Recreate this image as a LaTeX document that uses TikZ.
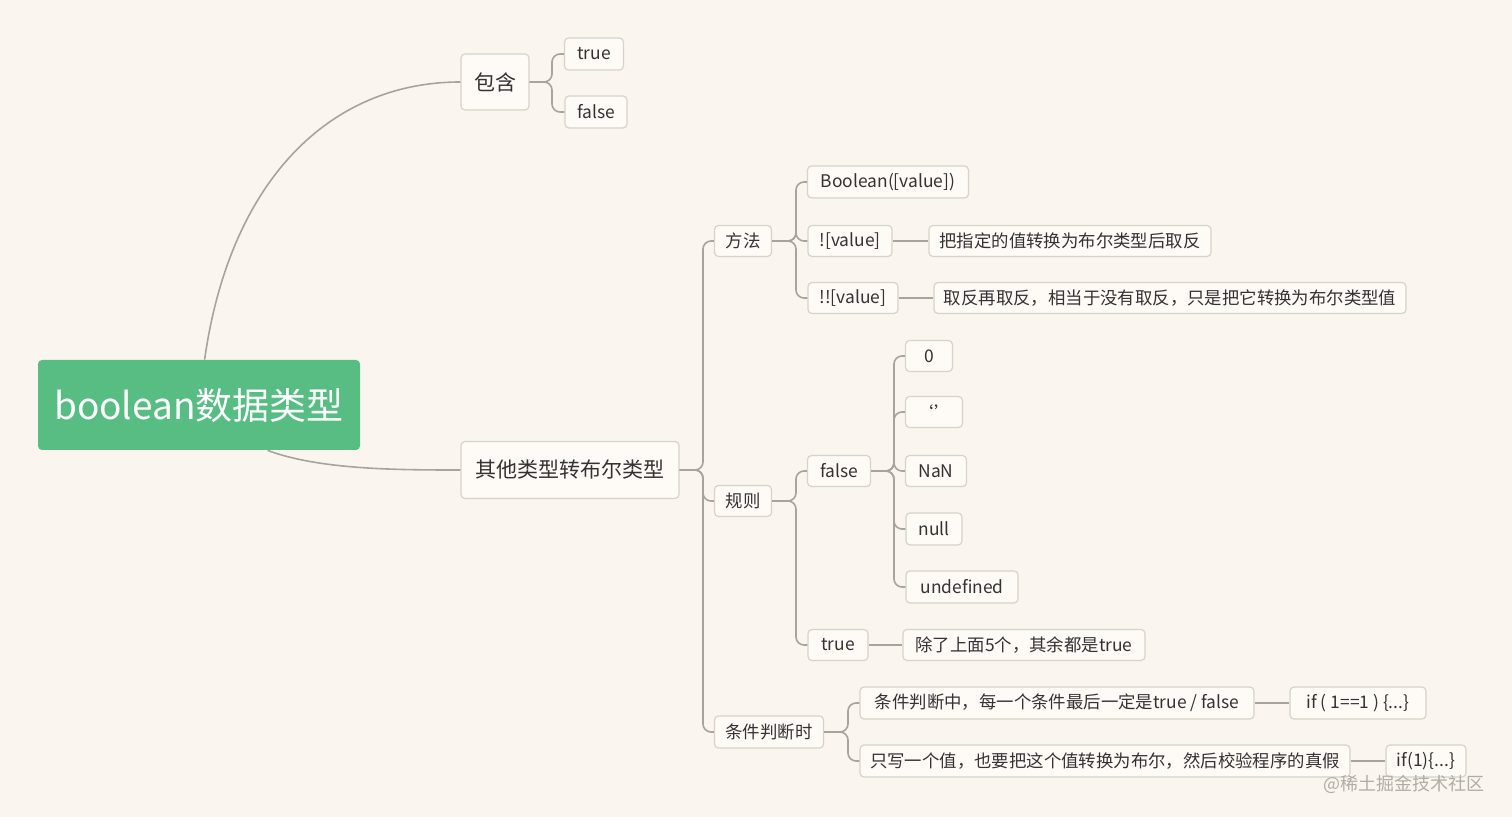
\documentclass[tikz,border=0pt]{standalone}
\usepackage{fontspec}
\setmainfont{Noto Sans CJK SC}
\begin{document}
\begin{tikzpicture}[x=0.5pt,y=-0.5pt,
 bx/.style={draw=bord,fill=boxf,rounded corners=2pt,line width=0.6pt,font=\fontsize{8.7}{10}\selectfont,text=txt,inner sep=0pt,anchor=center},
 conn/.style={draw=lin,line width=0.8pt,rounded corners=4pt}]
\definecolor{bg}{HTML}{FBF5EF}
\definecolor{bord}{HTML}{D8D2CB}
\definecolor{boxf}{HTML}{FEFAF6}
\definecolor{lin}{HTML}{A9A39D}
\definecolor{txt}{HTML}{333333}
\definecolor{grn}{HTML}{57BD82}
\fill[bg] (0,0) rectangle (1512,817);
\useasboundingbox (0,0) rectangle (1512,817);
\node[fill=grn,rounded corners=2pt,minimum width=161pt,minimum height=45pt,text=white,font=\fontsize{18.5}{20}\selectfont,inner sep=0pt] (root) at (199,405) {boolean数据类型};
\node[bx,minimum width=34pt,minimum height=28pt,font=\fontsize{10.5}{12}\selectfont] (bh) at (495,82) {包含};
\node[bx,minimum width=29.5pt,minimum height=16pt] (t1) at (594,54) {true};
\node[bx,minimum width=31pt,minimum height=16pt] (f1) at (596,112) {false};
\node[bx,minimum width=109pt,minimum height=28.5pt,font=\fontsize{10.5}{12}\selectfont] (qt) at (570,470) {其他类型转布尔类型};
\node[bx,minimum width=28.5pt,minimum height=15.5pt] (ff) at (743,241) {方法};
\node[bx,minimum width=28.5pt,minimum height=15.5pt] (gz) at (743,501) {规则};
\node[bx,minimum width=54.5pt,minimum height=16pt] (tj) at (769,732) {条件判断时};
\node[bx,minimum width=80.5pt,minimum height=16pt] (bv) at (888,182) {Boolean([value])};
\node[bx,minimum width=42pt,minimum height=15.5pt] (nv) at (850,241) {![value]};
\node[bx,minimum width=141pt,minimum height=15.5pt] (nvd) at (1070,241) {把指定的值转换为布尔类型后取反};
\node[bx,minimum width=45pt,minimum height=15.5pt] (nnv) at (853,298) {!![value]};
\node[bx,minimum width=236pt,minimum height=15.5pt] (nnvd) at (1170,298) {取反再取反，相当于没有取反，只是把它转换为布尔类型值};
\node[bx,minimum width=31.5pt,minimum height=15.5pt] (fr) at (839,471) {false};
\node[bx,minimum width=23.5pt,minimum height=15.5pt] (z) at (929,356) {0};
\node[bx,minimum width=28.5pt,minimum height=15.5pt] (es) at (934,412) {‘’};
\node[bx,minimum width=30.5pt,minimum height=15.5pt] (nan) at (936,471) {NaN};
\node[bx,minimum width=28pt,minimum height=16pt] (nul) at (934,529) {null};
\node[bx,minimum width=56pt,minimum height=16pt] (und) at (962,587) {undefined};
\node[bx,minimum width=30pt,minimum height=15.5pt] (tr) at (838,645) {true};
\node[bx,minimum width=121pt,minimum height=15.5pt] (trd) at (1024,645) {除了上面5个，其余都是true};
\node[bx,minimum width=197pt,minimum height=16pt] (c1) at (1057,703) {条件判断中，每一个条件最后一定是true / false};
\node[bx,minimum width=68pt,minimum height=16pt] (c1e) at (1358,703) {if ( 1==1 ) \{...\}};
\node[bx,minimum width=245pt,minimum height=16pt] (c2) at (1105,761) {只写一个值，也要把这个值转换为布尔，然后校验程序的真假};
\node[bx,minimum width=40pt,minimum height=16pt] (c2e) at (1426,761) {if(1)\{...\}};
\node[text=lin!90!white,font=\fontsize{9}{10}\selectfont,anchor=east] (wm) at (1492,784) {@稀土掘金技术社区};
\coordinate (x1) at (552,0);
\coordinate (x2) at (703,0);
\coordinate (x3) at (796,0);
\coordinate (x4) at (894,0);
\coordinate (x5) at (848,0);
\draw[conn] (root.north west) ++(167,0) coordinate (r1) .. controls (230,180) and (330,82) .. (bh.west);
\draw[conn] (root.south west) ++(230,0) coordinate (r2) .. controls (320,470) and (400,470) .. (qt.west);
\foreach \c in {t1,f1} \draw[conn] (bh.east) -- (bh.east -| x1) |- (\c.west);
\foreach \c in {ff,gz,tj} \draw[conn] (qt.east) -- (qt.east -| x2) |- (\c.west);
\foreach \c in {bv,nv,nnv} \draw[conn] (ff.east) -- (ff.east -| x3) |- (\c.west);
\foreach \c in {fr,tr} \draw[conn] (gz.east) -- (gz.east -| x3) |- (\c.west);
\foreach \c in {z,es,nan,nul,und} \draw[conn] (fr.east) -- (fr.east -| x4) |- (\c.west);
\foreach \c in {c1,c2} \draw[conn] (tj.east) -- (tj.east -| x5) |- (\c.west);
\draw[conn] (nv.east) -- (nvd.west);
\draw[conn] (nnv.east) -- (nnvd.west);
\draw[conn] (tr.east) -- (trd.west);
\draw[conn] (c1.east) -- (c1e.west);
\draw[conn] (c2.east) -- (c2e.west);
\end{tikzpicture}
\end{document}
